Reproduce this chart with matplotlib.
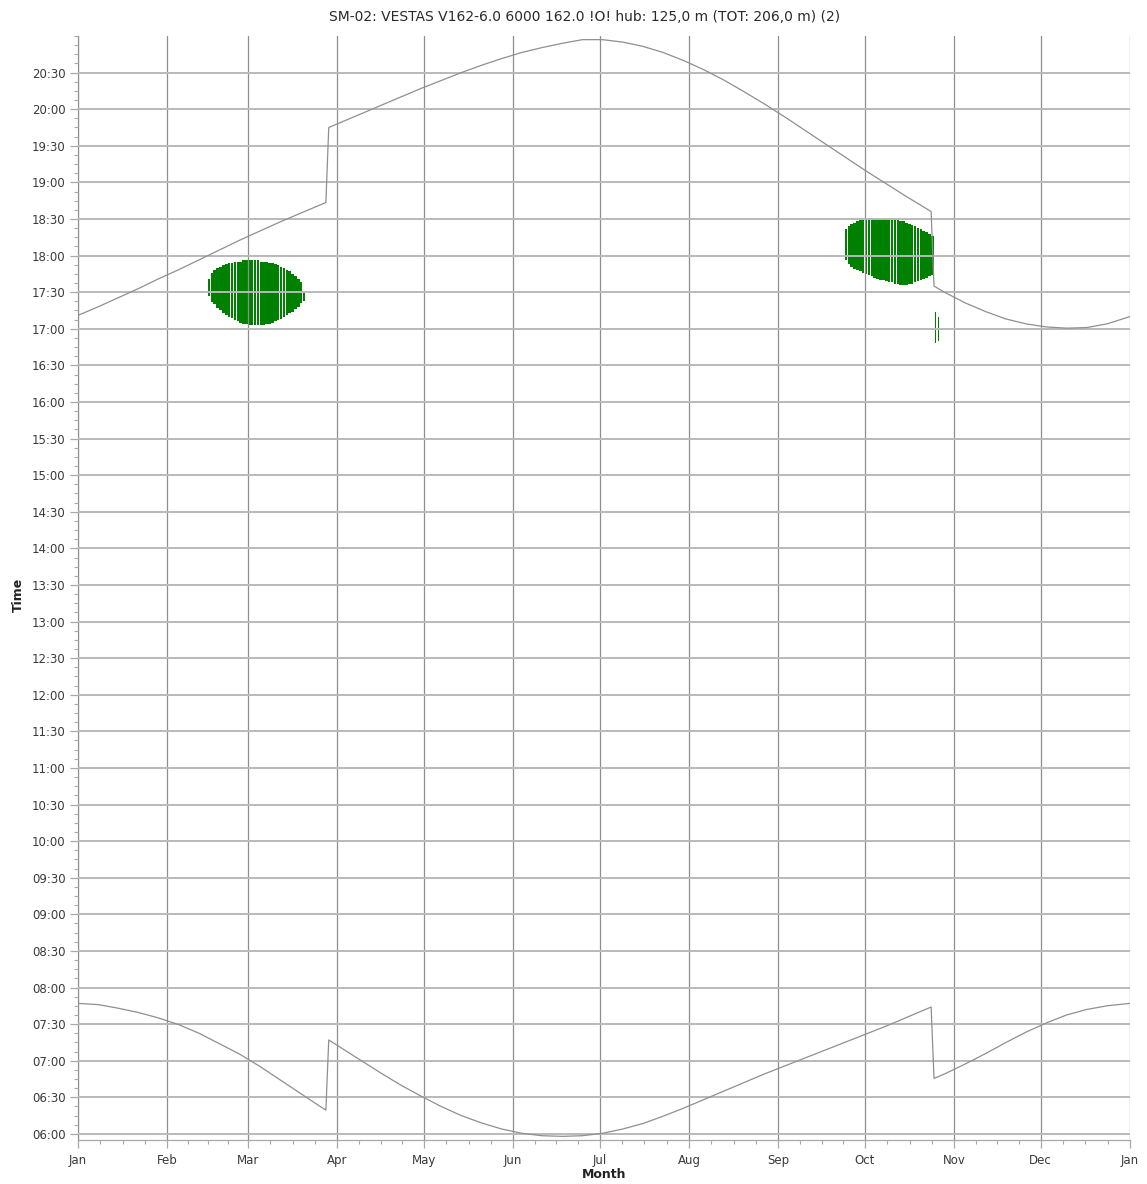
import matplotlib
matplotlib.use('Agg')
import matplotlib.pyplot as plt
from matplotlib.ticker import FixedLocator, MultipleLocator

# ---------------- data ----------------
title = "SM-02: VESTAS V162-6.0 6000 162.0 !O! hub: 125,0 m (TOT: 206,0 m) (2)"
month_labels = ['Jan', 'Feb', 'Mar', 'Apr', 'May', 'Jun', 'Jul', 'Aug', 'Sep',
                'Oct', 'Nov', 'Dec', 'Jan']
month_starts = [0, 31, 59, 90, 120, 151, 181, 212, 243, 273, 304, 334, 365]

# sunset (upper curve), day of year -> local time (HH:MM, minutes may be fractional)
sunset_days = [0, 7, 14, 21, 28, 35, 42, 49, 56, 63, 70, 77, 84, 86,
               87, 91, 98, 105, 112, 119, 126, 133, 140, 147, 154, 161, 168,
               175, 182, 189, 196, 203, 210, 217, 224, 231, 238, 245, 252, 259,
               266, 273, 280, 287, 294, 296,
               297, 301, 308, 315, 322, 329, 336, 343, 350, 357, 365]
sunset_times = ["17:11", "17:18", "17:25.5", "17:33", "17:41", "17:48.5",
                "17:56.5", "18:04.5", "18:12.5", "18:20", "18:27.5", "18:34.5",
                "18:41.5", "18:43.5",
                "19:45", "19:49", "19:56", "20:03", "20:10", "20:17", "20:23.5",
                "20:30", "20:36", "20:41.5", "20:46.5", "20:50.5", "20:54",
                "20:57", "20:57", "20:55", "20:51.5", "20:46.5", "20:40",
                "20:32.5", "20:24", "20:14.5", "20:04.5", "19:54", "19:43",
                "19:32", "19:21", "19:10", "18:59.5", "18:49", "18:39", "18:36",
                "17:35", "17:29.5", "17:21", "17:14", "17:08", "17:04",
                "17:01.5", "17:00.5", "17:01", "17:04", "17:10"]

# sunrise (lower curve)
sunrise_days = [0, 7, 14, 21, 28, 35, 42, 49, 56, 63, 70, 77, 84, 86,
                87, 91, 98, 105, 112, 119, 126, 133, 140, 147, 154, 161, 168,
                175, 182, 189, 196, 203, 210, 217, 224, 231, 238, 245, 252, 259,
                266, 273, 280, 287, 294, 296,
                297, 301, 308, 315, 322, 329, 336, 343, 350, 357, 365]
sunrise_times = ["07:47", "07:46", "07:43", "07:39.5", "07:35", "07:29.5",
                 "07:22.5", "07:14", "07:05.5", "06:55.5", "06:44.5", "06:33.5",
                 "06:22.5", "06:19.5",
                 "07:17", "07:11", "07:00.5", "06:50", "06:40", "06:31",
                 "06:22.5", "06:15", "06:09", "06:04", "06:00.5", "05:58.5",
                 "05:58", "05:58.5", "06:00.5", "06:04", "06:08.5", "06:14.5",
                 "06:21", "06:28", "06:35", "06:42", "06:49", "06:55.5",
                 "07:02", "07:08.5", "07:15", "07:21.5", "07:28", "07:35",
                 "07:42", "07:44",
                 "06:45.5", "06:49.5", "06:57.5", "07:06", "07:15", "07:23.5",
                 "07:31", "07:37.5", "07:42", "07:45", "07:47"]

# shadow flicker period 1 (Feb-Mar), one entry per day
flicker1_days = [45, 46, 47, 48, 49, 50, 51, 52, 53, 54, 55, 56, 57, 58, 59, 60,
                 61, 62, 63, 64, 65, 66, 67, 68, 69, 70, 71, 72, 73, 74, 75, 76,
                 77, 78]
flicker1_start = ["17:27", "17:22", "17:20", "17:17", "17:15", "17:13", "17:11",
                  "17:10", "17:09", "17:07", "17:06", "17:05", "17:04", "17:04",
                  "17:03", "17:03", "17:03", "17:03", "17:03", "17:03", "17:04",
                  "17:04", "17:05", "17:06", "17:07", "17:08", "17:10", "17:11",
                  "17:13", "17:14", "17:16", "17:18", "17:21", "17:23"]
flicker1_end = ["17:41", "17:46", "17:48", "17:50", "17:51", "17:52", "17:53",
                "17:54", "17:54", "17:55", "17:55", "17:55", "17:56", "17:56",
                "17:56", "17:56", "17:56", "17:56", "17:55", "17:55", "17:55",
                "17:54", "17:54", "17:53", "17:52", "17:51", "17:50", "17:48",
                "17:47", "17:45", "17:43", "17:41", "17:38", "17:31"]

# shadow flicker period 2 (Sep-Oct)
flicker2_days = [266, 267, 268, 269, 270, 271, 272, 273, 274, 275, 276, 277,
                 278, 279, 280, 281, 282, 283, 284, 285, 286, 287, 288, 289,
                 290, 291, 292, 293, 294, 295, 296]
flicker2_start = ["17:56", "17:53", "17:51", "17:49", "17:48", "17:47", "17:46",
                  "17:45", "17:44", "17:43", "17:42", "17:41", "17:40", "17:40",
                  "17:39", "17:38", "17:38", "17:37", "17:37", "17:36", "17:36",
                  "17:36", "17:37", "17:37", "17:38", "17:39", "17:40", "17:41",
                  "17:42", "17:43", "17:44"]
flicker2_end = ["18:22", "18:24", "18:26", "18:27", "18:28", "18:29", "18:29",
                "18:30", "18:30", "18:30", "18:30", "18:30", "18:30", "18:30",
                "18:30", "18:30", "18:29", "18:29", "18:29", "18:28", "18:28",
                "18:27", "18:26", "18:25", "18:24", "18:23", "18:22", "18:20",
                "18:19", "18:18", "18:16"]

# two short flicker events just after the clock change
flicker3_days = [297.3, 298.3]
flicker3_start = ["16:48", "16:50"]
flicker3_end = ["17:14", "17:10"]


def to_h(s):
    h, m = s.split(':')
    return int(h) + float(m) / 60.0


# ---------------- figure ----------------
W, H = 1147, 1184
fig = plt.figure(figsize=(W / 100, H / 100), dpi=100)
ax = fig.add_axes([78 / W, 1 - 1140 / H, (1130 - 78) / W, (1140 - 36) / H])

green = '#008000'
for days, st, en, wd in [(flicker1_days, flicker1_start, flicker1_end, 0.88),
                         (flicker2_days, flicker2_start, flicker2_end, 0.88),
                         (flicker3_days, flicker3_start, flicker3_end, 0.35)]:
    b = [to_h(s) for s in st]
    t = [to_h(s) for s in en]
    ax.bar(days, [ti - bi for ti, bi in zip(t, b)], bottom=b, width=wd,
           align='edge', color=green, linewidth=0, zorder=1)

line_col = '#8f8f8f'
ax.plot(sunset_days, [to_h(s) for s in sunset_times], color=line_col, lw=0.9,
        zorder=3)
ax.plot(sunrise_days, [to_h(s) for s in sunrise_times], color=line_col, lw=0.9,
        zorder=3)

ax.set_xlim(0, 365)
ax.set_ylim(5 + 55 / 60, 21.0)

# x ticks
ax.xaxis.set_major_locator(FixedLocator(month_starts))
ax.set_xticklabels(month_labels)
minor_x = []
for a, b in zip(month_starts[:-1], month_starts[1:]):
    for k in (1, 2, 3):
        minor_x.append(a + k * (b - a) / 4)
ax.xaxis.set_minor_locator(FixedLocator(minor_x))

# y ticks
yt = [6 + 0.5 * i for i in range(30)]
ax.set_yticks(yt)
ax.set_yticklabels([f"{int(v):02d}:{int(round((v % 1) * 60)):02d}" for v in yt])
ax.yaxis.set_minor_locator(MultipleLocator(0.125))

ax.tick_params(axis='both', which='major', labelsize=8.5, labelcolor='#3a3a3a',
               color='#a8a8a8', length=6, width=0.9)
ax.tick_params(axis='both', which='minor', color='#a8a8a8', length=3, width=0.8)
ax.tick_params(axis='x', which='major', pad=4)
ax.tick_params(axis='y', which='major', pad=3)

ax.grid(True, which='major', axis='x', color='#8e8e8e', lw=0.9, zorder=2)
ax.grid(True, which='major', axis='y', color='#b9b9b9', lw=1.4, zorder=2)
ax.set_axisbelow(False)

for s in ('top', 'right'):
    ax.spines[s].set_visible(False)
ax.spines['left'].set_color('#c0c0c0')
ax.spines['bottom'].set_color('#a8a8a8')
ax.spines['left'].set_linewidth(0.9)
ax.spines['bottom'].set_linewidth(0.9)

fig.text(585 / W, 1 - 17 / H, title, ha='center', va='center', fontsize=10,
         color='#2a2a2a')
fig.text(604 / W, 1 - 1175 / H, 'Month', ha='center', va='center',
         fontsize=9, fontweight='bold', color='#222222')
fig.text(18 / W, 1 - 595 / H, 'Time', ha='center', va='center', rotation=90,
         fontsize=9, fontweight='bold', color='#222222')

fig.savefig('out.png', dpi=100, facecolor='white')
